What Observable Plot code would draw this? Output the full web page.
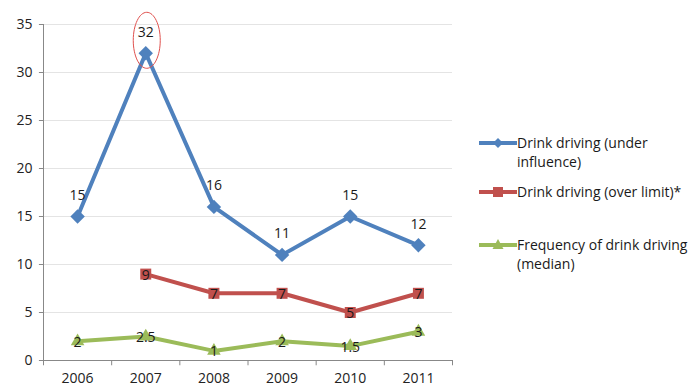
<!DOCTYPE html>
<html>
<head>
<meta charset="utf-8">
<script src="https://cdn.jsdelivr.net/npm/d3@7"></script>
<script src="https://cdn.jsdelivr.net/npm/@observablehq/plot@0.6"></script>
<style>
  html, body { margin: 0; padding: 0; background: #fff; }
  #wrap { position: relative; width: 694px; height: 387px; font-family: "Open Sans", "DejaVu Sans", sans-serif; }
  .leg { position: absolute; left: 478px; font-size: 14px; color: #1a1a1a; line-height: 19px; }
  .leg svg { position: absolute; left: 0; top: 2px; }
  .leg span { display: block; margin-left: 39px; white-space: nowrap; }
</style>
</head>
<body>
<div id="wrap"></div>
<script>
const years = [2006, 2007, 2008, 2009, 2010, 2011];
const underInfluence = [15, 32, 16, 11, 15, 12];
const overLimit = [null, 9, 7, 7, 5, 7];
const frequency = [2, 2.5, 1, 2, 1.5, 3];
const yTicks = [0, 5, 10, 15, 20, 25, 30, 35];
const seriesNames = ["Drink driving (under influence)", "Drink driving (over limit)*", "Frequency of drink driving (median)"];
const colors = ["#4F81BD", "#C0504D", "#9BBB59"];

const blue = years.map((y, i) => ({year: y, v: underInfluence[i]}));
const red = years.map((y, i) => ({year: y, v: overLimit[i]})).filter(d => d.v != null);
const green = years.map((y, i) => ({year: y, v: frequency[i]}));
const bounds = d3.range(years.length + 1).map(i => years[0] - 0.5 + i);
const peak = blue.filter(d => d.v === d3.max(underInfluence));

const ellipse = {
  draw(ctx) {
    const rx = 13.5, ry = 28, k = 0.5523;
    ctx.moveTo(rx, 0);
    ctx.bezierCurveTo(rx, k * ry, k * rx, ry, 0, ry);
    ctx.bezierCurveTo(-k * rx, ry, -rx, k * ry, -rx, 0);
    ctx.bezierCurveTo(-rx, -k * ry, -k * rx, -ry, 0, -ry);
    ctx.bezierCurveTo(k * rx, -ry, rx, -k * ry, rx, 0);
    ctx.closePath();
  }
};

const font = "\"Open Sans\", \"DejaVu Sans\", sans-serif";

const chart = Plot.plot({
  width: 694,
  height: 387,
  marginLeft: 43,
  marginRight: 242,
  marginTop: 24,
  marginBottom: 27,
  style: {fontFamily: font, fontSize: "13px", color: "#333", background: "#fff"},
  x: {type: "linear", domain: [years[0] - 0.5, years[years.length - 1] + 0.5], axis: null},
  y: {domain: [0, 35], axis: null},
  marks: [
    Plot.ruleY(yTicks.filter(t => t > 0), {stroke: "#e4e4e4", strokeWidth: 1}),
    Plot.ruleX([bounds[0]], {y1: 0, y2: 35, stroke: "#888", strokeWidth: 1}),
    Plot.ruleY([0], {stroke: "#888", strokeWidth: 1}),
    Plot.ruleY(yTicks, {x1: bounds[0] - 0.06, x2: bounds[0], stroke: "#888", strokeWidth: 1}),
    Plot.ruleX(bounds, {y1: 0, y2: -0.55, stroke: "#888", strokeWidth: 1}),
    Plot.text(yTicks, {x: bounds[0], y: d => d, text: d => String(d), textAnchor: "end", dx: -11, fill: "#222", fontSize: 14}),
    Plot.text(years, {x: d => d, y: 0, text: d => String(d), dy: 18, fill: "#222", fontSize: 14}),
    // series lines
    Plot.line(blue, {x: "year", y: "v", stroke: colors[0], strokeWidth: 4}),
    Plot.line(red, {x: "year", y: "v", stroke: colors[1], strokeWidth: 4}),
    Plot.line(green, {x: "year", y: "v", stroke: colors[2], strokeWidth: 4}),
    Plot.dot(blue, {x: "year", y: "v", symbol: "diamond2", r: 6.5, fill: colors[0]}),
    Plot.dot(red, {x: "year", y: "v", symbol: "square2", r: 7, fill: colors[1]}),
    Plot.dot(green, {x: "year", y: "v", symbol: "triangle2", r: 6.5, fill: colors[2]}),
    // labels
    Plot.text(blue, {x: "year", y: "v", text: d => String(d.v), dy: -21, fill: "#1a1a1a", fontSize: 14}),
    Plot.text(red, {x: "year", y: "v", text: d => String(d.v), dy: 1, fill: "#1a1a1a", fontSize: 14}),
    Plot.text(green, {x: "year", y: "v", text: d => String(d.v), dy: 1, fill: "#1a1a1a", fontSize: 14}),
    // annotation ellipse
    Plot.dot(peak, {x: "year", y: "v", symbol: ellipse, dx: 1, dy: -13, r: 10, fill: "none", stroke: "#E0504D", strokeWidth: 1})
  ]
});

const wrap = document.getElementById("wrap");
wrap.appendChild(chart);

const markerSvg = [
  '<path d="M0,-5L5,0L0,5L-5,0Z" />',
  '<rect x="-5" y="-5" width="10" height="10" />',
  '<path d="M0,-6L5.5,4L-5.5,4Z" />'
];
const legendTops = [133, 182, 235];
const legendLines = [["Drink driving (under", "influence)"], ["Drink driving (over limit)*"], ["Frequency of drink driving", "(median)"]];
legendLines.forEach((lines, i) => {
  const div = document.createElement("div");
  div.className = "leg";
  div.style.top = legendTops[i] + "px";
  div.innerHTML = `<svg width="40" height="16" viewBox="-20 -8 40 16"><line x1="-19" x2="19" y1="0" y2="0" stroke="${colors[i]}" stroke-width="4"/><g fill="${colors[i]}">${markerSvg[i]}</g></svg>` +
    lines.map(t => `<span>${t}</span>`).join("");
  div.title = seriesNames[i];
  wrap.appendChild(div);
});
</script>
</body>
</html>
